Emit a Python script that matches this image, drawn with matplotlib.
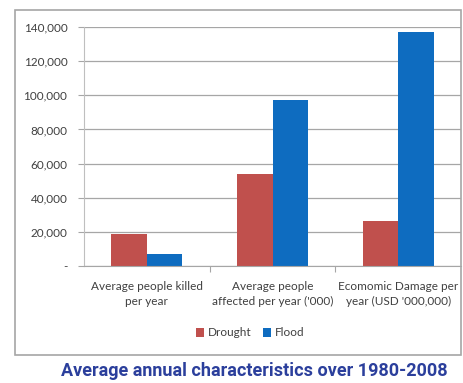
import numpy as np
import matplotlib
matplotlib.use("Agg")
import matplotlib.pyplot as plt
from matplotlib.patches import Rectangle
from matplotlib.ticker import FuncFormatter

# dati
categorie = ["Average people killed\nper year",
             "Average people\naffected per year ('000)",
             "Ecomomic Damage per\nyear (USD '000,000)"]
drought = [19000, 54000, 26500]
flood = [7000, 97000, 137000]
yticks = [0, 20000, 40000, 60000, 80000, 100000, 120000, 140000]

W, H = 463, 383
fig = plt.figure(figsize=(W/100, H/100), dpi=100)
fig.patch.set_facecolor("white")

font = "Lato"

# cornice del grafico
fig.patches.append(Rectangle((15/W, 1 - 355/H), (461-15)/W, (355-10)/H,
                             transform=fig.transFigure, fill=False,
                             edgecolor="#a6a6a6", linewidth=1.2))

ax = fig.add_axes([84/W, 1 - 266/H, (461-84)/W, (266-27)/H])
x = np.arange(len(categorie))
w = 0.283
ax.bar(x - w/2, drought, w, color="#c0504d", label="Drought")
ax.bar(x + w/2, flood, w, color="#0e6cc0", label="Flood")

ax.set_xlim(-0.5, 2.5)
ax.set_ylim(0, 140000)
ax.set_yticks(yticks)
ax.yaxis.set_major_formatter(FuncFormatter(lambda v, p: "-" if v == 0 else f"{int(v):,}"))
ax.grid(axis="y", color="#a6a6a6", linewidth=0.9)
ax.set_axisbelow(True)
for s in ["top", "right"]:
    ax.spines[s].set_visible(False)
ax.spines["left"].set_color("#bfbfbf")
ax.spines["bottom"].set_color("#a6a6a6")
ax.set_xticks([0.5, 1.5])
ax.set_xticklabels([])
ax.tick_params(axis="x", length=4, color="#a6a6a6", direction="out")
ax.tick_params(axis="y", length=4, color="#a6a6a6", labelsize=8.5, pad=8,
               labelcolor="#404040")
for t in ax.get_yticklabels():
    t.set_fontfamily(font)
for i, c in enumerate(categorie):
    ax.text(i, -8500, c, ha="center", va="top", fontsize=8.5, family=font,
            color="#404040", linespacing=1.5)

leg = fig.legend(loc="center", bbox_to_anchor=(250/W, 1 - 333/H), ncol=2,
                 frameon=False, handlelength=0.7, handleheight=0.7,
                 handletextpad=0.3, columnspacing=1.0, prop={"family": font, "size": 8.5})
for t in leg.get_texts():
    t.set_color("#404040")

fig.text(254/W, 1 - 371/H, "Average annual characteristics over 1980-2008",
         ha="center", va="center", fontsize=13, fontweight="bold",
         family="Roboto", color="#2b3f9c")

fig.savefig("out.png", dpi=100)
